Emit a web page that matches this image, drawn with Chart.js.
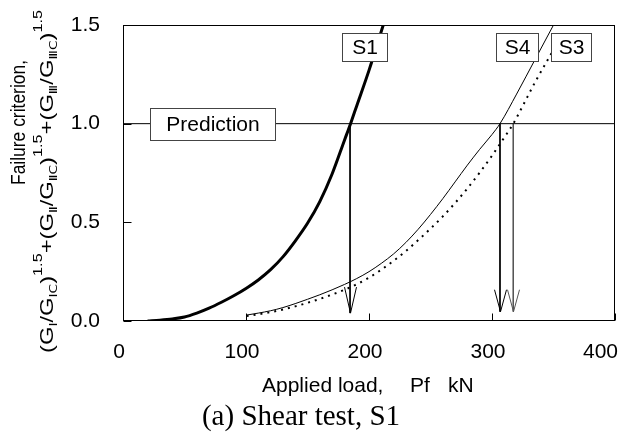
<!DOCTYPE html>
<html><head><meta charset="utf-8">
<script src="https://cdn.jsdelivr.net/npm/chart.js@4.4.0/dist/chart.umd.min.js"></script>
<style>html,body{margin:0;padding:0;background:#fff;}</style>
</head><body>
<canvas id="c" width="632" height="439"></canvas>
<script>
// ---- data ----
const xTicks = [0, 100, 200, 300, 400];
const yTicks = [0, 0.5, 1.0, 1.5];

const s1Load = [20, 30, 40, 50, 60, 70, 80, 90, 100, 110, 120, 130, 140, 150, 160, 170, 180, 185, 190, 200, 211.6];
const s1Val  = [0.0, 0.004, 0.01, 0.02, 0.04, 0.065, 0.095, 0.128, 0.165, 0.208, 0.26, 0.325, 0.405, 0.495, 0.605, 0.745, 0.915, 1.0, 1.09, 1.27, 1.5];

const s4Load = [100.5, 110, 120, 130, 140, 150, 160, 170, 180, 190, 200, 210, 220, 230, 240, 250, 260, 270, 280, 290, 300, 306.5, 320, 335, 350];
const s4Val  = [0.03, 0.04, 0.052, 0.068, 0.088, 0.11, 0.133, 0.158, 0.185, 0.215, 0.25, 0.292, 0.34, 0.398, 0.465, 0.54, 0.62, 0.705, 0.79, 0.87, 0.945, 1.0, 1.15, 1.325, 1.5];

const s3Load = [100.5, 110, 120, 130, 140, 150, 160, 170, 180, 190, 200, 210, 220, 230, 240, 250, 260, 270, 280, 290, 300, 310, 317.3, 325, 335, 345, 354];
const s3Val  = [0.025, 0.034, 0.045, 0.058, 0.074, 0.092, 0.112, 0.134, 0.158, 0.186, 0.22, 0.26, 0.305, 0.355, 0.41, 0.468, 0.53, 0.598, 0.672, 0.752, 0.838, 0.93, 1.0, 1.09, 1.21, 1.32, 1.42];

const predictionValue = 1.0;
const arrowLoad = [184.6, 306.5, 317.3];
const arrowTip  = [0.04, 0.047, 0.047];

const SANS = "'Liberation Sans', Arial, sans-serif";
const SERIF = "'Liberation Serif', 'Times New Roman', serif";

function pts(xs, ys) { return xs.map((x, i) => ({x: x, y: ys[i]})); }

const datasets = [
  {data: [{x: 0, y: predictionValue}, {x: 400, y: predictionValue}], borderColor: '#000', borderWidth: 1},
  {data: pts(s3Load, s3Val), borderColor: '#000', borderWidth: 2, borderDash: [2, 5], cubicInterpolationMode: 'monotone'},
  {data: pts(s4Load, s4Val), borderColor: '#000', borderWidth: 1, cubicInterpolationMode: 'monotone'},
  {data: pts(s1Load, s1Val), borderColor: '#000', borderWidth: 3, cubicInterpolationMode: 'monotone'},
];
arrowLoad.forEach((x, i) => {
  datasets.push({data: [{x: x, y: predictionValue}, {x: x, y: arrowTip[i]}], borderColor: i === 2 ? '#555' : '#000', borderWidth: 1});
});
datasets.forEach(d => { d.showLine = true; d.pointRadius = 0; d.fill = false; });

const labelBoxes = [
  {text: 'Prediction', x: 72.8, y: 1.0, w: 125, h: 32},
  {text: 'S1', x: 196.3, y: 1.386, w: 45, h: 28},
  {text: 'S4', x: 320.3, y: 1.386, w: 42, h: 28},
  {text: 'S3', x: 364.2, y: 1.386, w: 40, h: 28},
];

const decor = {
  id: 'decor',
  afterDatasetsDraw(chart) {
    const ctx = chart.ctx, xs = chart.scales.x, ys = chart.scales.y;
    ctx.save();
    ctx.lineWidth = 1;
    arrowLoad.forEach((x, i) => {
      const px = Math.round(xs.getPixelForValue(x)) + 0.5;
      const py = ys.getPixelForValue(arrowTip[i]);
      const h = i === 0 ? 26 : 22;
      ctx.strokeStyle = i === 2 ? '#555' : '#000';
      ctx.beginPath();
      ctx.moveTo(px - 6, py - h); ctx.lineTo(px, py); ctx.lineTo(px + 6, py - h);
      ctx.stroke();
    });
    labelBoxes.forEach(b => {
      const cx = xs.getPixelForValue(b.x), cy = ys.getPixelForValue(b.y);
      const l = Math.round(cx - b.w / 2) + 0.5, t = Math.round(cy - b.h / 2) + 0.5;
      ctx.fillStyle = '#fff';
      ctx.fillRect(l, t, b.w, b.h);
      ctx.strokeStyle = '#444'; ctx.lineWidth = 1;
      ctx.strokeRect(l, t, b.w, b.h);
      ctx.fillStyle = '#000';
      ctx.font = '21px ' + SANS;
      ctx.textAlign = 'center'; ctx.textBaseline = 'middle';
      ctx.fillText(b.text, l + b.w / 2, t + b.h / 2 + 1);
    });
    ctx.restore();
  },
  afterDraw(chart) {
    const ctx = chart.ctx, a = chart.chartArea, xs = chart.scales.x, ys = chart.scales.y;
    ctx.save();
    ctx.strokeStyle = '#000'; ctx.lineWidth = 1;
    const L = Math.round(a.left) + 0.5, R = Math.round(a.right) - 0.5, T = Math.round(a.top) + 0.5, B = Math.round(a.bottom) - 0.5;
    ctx.strokeRect(L, T, R - L, B - T);
    ctx.beginPath();
    xTicks.forEach(v => { const p = Math.round(xs.getPixelForValue(v)) + 0.5; ctx.moveTo(p, B); ctx.lineTo(p, B - 7); });
    yTicks.forEach(v => { const p = Math.round(ys.getPixelForValue(v)) + 0.5; ctx.moveTo(L, p); ctx.lineTo(L + 8, p); });
    ctx.stroke();

    ctx.fillStyle = '#000';
    // x tick labels (kept inside the canvas at the right edge)
    ctx.font = '21px ' + SANS; ctx.textBaseline = 'middle'; ctx.textAlign = 'center';
    xTicks.forEach(v => {
      const t = String(v);
      const hw = ctx.measureText(t).width / 2;
      let p = xs.getPixelForValue(v) - 4;
      p = Math.min(p, chart.width - 14 - hw);
      ctx.fillText(t, p, 352);
    });

    ctx.textBaseline = 'alphabetic'; ctx.textAlign = 'left';
    ctx.fillText('Applied load,', 262, 392);
    ctx.fillText('Pf', 410, 392);
    ctx.fillText('kN', 448, 392);
    ctx.font = '29px ' + SERIF; ctx.textAlign = 'center';
    ctx.fillText('(a) Shear test, S1', 301, 425);

    // y-axis title line 1
    ctx.save();
    ctx.translate(25, 122.5); ctx.rotate(-Math.PI / 2);
    ctx.font = '20px ' + SANS; ctx.textAlign = 'left';
    const t1 = 'Failure criterion,';
    const w1 = ctx.measureText(t1).width;
    ctx.scale(125 / w1, 1);
    ctx.fillText(t1, -w1 / 2, 0);
    ctx.restore();

    // y-axis title line 2 with sub/superscripts
    const segs = [
      ['(G', 'n'], ['\u2160', 'b'], ['/G', 'n'], ['\u2160C', 'b'], [')', 'n'], ['1.5', 'p'],
      ['+(G', 'n'], ['\u2161', 'b'], ['/G', 'n'], ['\u2161C', 'b'], [')', 'n'], ['1.5', 'p'],
      ['+(G', 'n'], ['\u2162', 'b'], ['/G', 'n'], ['\u2162C', 'b'], [')', 'n'], ['1.5', 'p'],
    ];
    const SUBF = "'DejaVu Sans', 'Liberation Sans', sans-serif";
    const fontOf = k => k === 'n' ? '19px ' + SANS : (k === 'b' ? '11px ' + SUBF : '13px ' + SANS);
    const dyOf = k => k === 'n' ? 0 : (k === 'b' ? 4 : -11);
    let total = 0;
    segs.forEach(s => { ctx.font = fontOf(s[1]); total += ctx.measureText(s[0]).width; });
    ctx.save();
    ctx.translate(53, 181.5); ctx.rotate(-Math.PI / 2);
    ctx.scale(343 / total, 1);
    let cx = -total / 2;
    ctx.textAlign = 'left'; ctx.textBaseline = 'alphabetic';
    segs.forEach(s => {
      ctx.font = fontOf(s[1]);
      ctx.fillText(s[0], cx, dyOf(s[1]));
      cx += ctx.measureText(s[0]).width;
    });
    ctx.restore();
    ctx.restore();
  }
};

function noPad(s) { s.paddingLeft = 0; s.paddingRight = 0; s.paddingTop = 0; s.paddingBottom = 0; }

new Chart(document.getElementById('c'), {
  type: 'scatter',
  data: {datasets: datasets},
  options: {
    responsive: false, animation: false, devicePixelRatio: 1,
    layout: {padding: {left: 0, right: 17, top: 25, bottom: 0}},
    plugins: {legend: {display: false}, tooltip: {enabled: false}},
    scales: {
      x: {
        type: 'linear', min: 0, max: 400,
        afterBuildTicks(s) { s.ticks = xTicks.map(v => ({value: v})); },
        ticks: {display: false},
        grid: {display: false, drawTicks: false}, border: {display: false},
        afterFit(s) { s.height = 118; noPad(s); }
      },
      y: {
        type: 'linear', min: 0, max: 1.5,
        afterBuildTicks(s) { s.ticks = yTicks.map(v => ({value: v})); },
        ticks: {font: {family: SANS, size: 21}, color: '#000', padding: 23, callback: v => Number(v).toFixed(1)},
        grid: {display: false, drawTicks: false}, border: {display: false},
        afterFit(s) { s.width = 123; noPad(s); }
      }
    }
  },
  plugins: [decor]
});
</script>
</body></html>
